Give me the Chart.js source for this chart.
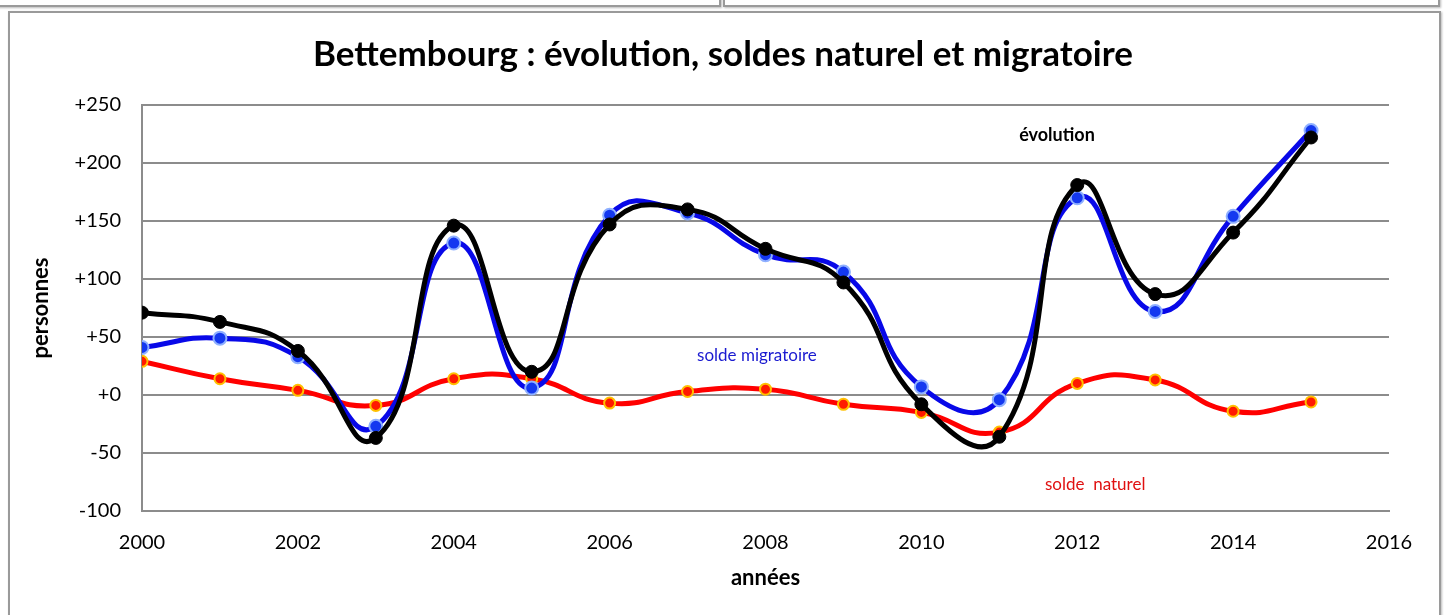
<!DOCTYPE html>
<html>
<head>
<meta charset="utf-8">
<script src="https://cdn.jsdelivr.net/npm/chart.js@4"></script>
<style>
  html, body { margin: 0; padding: 0; background: #fff; overflow: hidden; }
  body { width: 1446px; height: 615px; position: relative; font-family: Lato, sans-serif; }
  .box { position: absolute; border: 2px solid #9a9a9a; box-shadow: 1px 1px 2px #bbb; background: #fff; }
  #wrap { position: absolute; left: 0; top: 0; width: 1446px; height: 615px; }
</style>
</head>
<body>
<div class="box" style="left:-4px; top:-20px; width:721px; height:23px;"></div>
<div class="box" style="left:723px; top:-20px; width:713px; height:23px;"></div>
<div class="box" style="left:8px; top:11px; width:1429px; height:620px;"></div>
<div id="wrap"><canvas id="chart" width="1446" height="615"></canvas></div>
<script>
// === données ===
const annees = [2000, 2001, 2002, 2003, 2004, 2005, 2006, 2007, 2008, 2009, 2010, 2011, 2012, 2013, 2014, 2015];
const evolution = [71, 63, 38, -37, 146, 20, 147, 160, 126, 97, -8, -36, 181, 87, 140, 222];
const soldeMigratoire = [41, 49, 33, -27, 131, 6, 155, 157, 121, 106, 7, -4, 170, 72, 154, 228];
const soldeNaturel = [29, 14, 4, -9, 14, 14, -7, 3, 5, -8, -15, -32, 10, 13, -14, -6];
const yTicks = [-100, -50, 0, 50, 100, 150, 200, 250];
const xTicks = [2000, 2002, 2004, 2006, 2008, 2010, 2012, 2014, 2016];

const pts = (vals) => annees.map((a, i) => ({ x: a, y: vals[i] }));

// étiquettes posées dans le graphique
const etiquettes = {
  id: "etiquettes",
  afterDatasetsDraw(chart) {
    const { ctx, scales: { x, y } } = chart;
    ctx.save();
    ctx.textAlign = "center";
    ctx.textBaseline = "middle";
    ctx.font = "bold 18px Lato";
    ctx.fillStyle = "#000";
    ctx.fillText("évolution", x.getPixelForValue(2011.74), y.getPixelForValue(224));
    ctx.font = "17px Lato";
    ctx.fillStyle = "#1a1ad0";
    ctx.fillText("solde migratoire", x.getPixelForValue(2007.89), y.getPixelForValue(34));
    ctx.fillStyle = "#e01010";
    ctx.fillText("solde  naturel", x.getPixelForValue(2012.23), y.getPixelForValue(-77));
    ctx.restore();
  }
};

const ctx = document.getElementById("chart").getContext("2d");
new Chart(ctx, {
  type: "line",
  data: {
    datasets: [{
      label: "évolution",
      data: pts(evolution),
      borderColor: "#000",
      backgroundColor: "#000",
      pointBorderColor: "#000",
      borderWidth: 5,
      pointRadius: 6.5,
      pointBorderWidth: 1,
      tension: 0.5
    }, {
      label: "solde migratoire",
      data: pts(soldeMigratoire),
      borderColor: "#0808e8",
      backgroundColor: "#1438f0",
      pointBorderColor: "#8fb0ff",
      borderWidth: 5,
      pointRadius: 6.5,
      pointBorderWidth: 2,
      tension: 0.5
    }, {
      label: "solde naturel",
      data: pts(soldeNaturel),
      borderColor: "#ff0000",
      backgroundColor: "#ff1a00",
      pointBorderColor: "#ffc000",
      borderWidth: 5,
      pointRadius: 5.5,
      pointBorderWidth: 2,
      tension: 0.5
    }]
  },
  options: {
    responsive: false,
    animation: false,
    layout: { padding: 0 },
    plugins: {
      legend: { display: false },
      tooltip: { enabled: false },
      title: {
        display: true,
        text: "Bettembourg : évolution, soldes naturel et migratoire",
        color: "#000",
        font: { family: "Lato", size: 35, weight: "bold" },
        padding: { top: 34, bottom: 29 }
      }
    },
    scales: {
      x: {
        type: "linear",
        min: 2000,
        max: 2016,
        afterBuildTicks: (s) => { s.ticks = xTicks.map(v => ({ value: v })); },
        afterFit: (s) => { s.height = 104; },
        grid: { display: false, drawTicks: false },
        border: { display: true, color: "#8c8c8c", width: 2 },
        ticks: {
          color: "#000",
          font: { family: "Lato", size: 20 },
          padding: 20,
          maxRotation: 0,
          callback: (v) => String(v)
        },
        title: {
          display: true,
          text: "années",
          color: "#000",
          font: { family: "Lato", size: 22, weight: "bold" },
          padding: { top: 0, bottom: 24 }
        }
      },
      y: {
        min: -100,
        max: 250,
        afterBuildTicks: (s) => { s.ticks = yTicks.map(v => ({ value: v })); },
        afterFit: (s) => { s.width = 142; },
        grid: { color: "#8c8c8c", lineWidth: 2, drawTicks: false },
        border: { display: true, color: "#8c8c8c", width: 2 },
        ticks: {
          color: "#000",
          font: { family: "Lato", size: 20 },
          padding: 21,
          callback: (v) => (v >= 0 ? "+" : "") + v
        },
        title: {
          display: true,
          text: "personnes",
          color: "#000",
          font: { family: "Lato", size: 22, weight: "bold" },
          padding: { top: 28, bottom: 0 }
        }
      },
      // marge droite vide, pour garder le titre centré sur la page
      marge: {
        position: "right",
        min: -100,
        max: 250,
        afterFit: (s) => { s.width = 57; },
        grid: { display: false, drawTicks: false },
        border: { display: false },
        ticks: { display: false }
      }
    }
  },
  plugins: [etiquettes]
});
</script>
</body>
</html>
